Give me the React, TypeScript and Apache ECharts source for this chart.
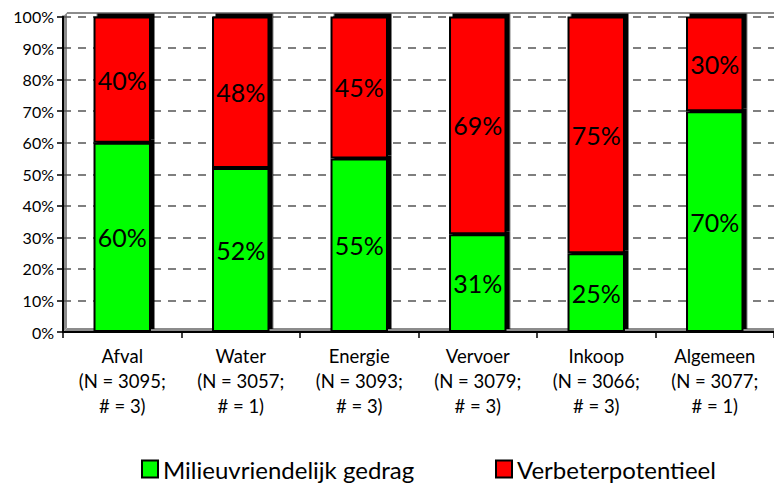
import React, { useEffect, useRef } from "react";
import * as echarts from "echarts";

const categories = [
  "Afval\n(N = 3095;\n# = 3)",
  "Water\n(N = 3057;\n# = 1)",
  "Energie\n(N = 3093;\n# = 3)",
  "Vervoer\n(N = 3079;\n# = 3)",
  "Inkoop\n(N = 3066;\n# = 3)",
  "Algemeen\n(N = 3077;\n# = 1)",
];
const greenValues = [60, 52, 55, 31, 25, 70];
const redValues = [40, 48, 45, 69, 75, 30];
const seriesNames = ["Milieuvriendelijk gedrag", "Verbeterpotentieel"];

const FONT = "Lato";
const GL = 63, GT = 16.5, GW = 715, GH = 315.5;

export default function App() {
  const ref = useRef<HTMLDivElement>(null);
  useEffect(() => {
    const chart = echarts.init(ref.current!, undefined, { renderer: "svg" });
    const d = 4;
    const barStyle = (color: string) => ({
      color,
      borderColor: "#000",
      borderWidth: 2,
      shadowColor: "#000",
      shadowBlur: 0,
      shadowOffsetX: 3.5,
      shadowOffsetY: -3,
    });
    const label = { show: true, position: "inside", formatter: "{c}%", fontFamily: FONT, fontSize: 25, color: "#000" };
    const legendBase = {
      top: 457,
      padding: 0,
      itemWidth: 16,
      itemHeight: 17,
      icon: "rect",
      itemStyle: { borderColor: "#000", borderWidth: 2, shadowColor: "transparent", shadowOffsetX: 0, shadowOffsetY: 0 },
      textStyle: { fontFamily: FONT, fontSize: 24, color: "#000", padding: [0, 0, 0, 0] },
    };
    chart.setOption({
      animation: false,
      textStyle: { fontFamily: FONT },
      grid: { left: GL, top: GT, width: GW, height: GH, containLabel: false },
      graphic: [
        {
          type: "polygon",
          z: -1,
          shape: { points: [[GL, GT + GH], [GL + d, GT + GH - d], [GL + d, GT - d], [GL, GT]] },
          style: { fill: "#8c8c8c" },
        },
        {
          type: "polygon",
          z: -1,
          shape: { points: [[GL, GT + GH], [GL + d, GT + GH - d], [GL + GW + d, GT + GH - d], [GL + GW, GT + GH]] },
          style: { fill: "#8c8c8c" },
        },
        {
          type: "line",
          z: -1,
          shape: { x1: GL + d, y1: GT - d + 0.5, x2: GL + GW + d, y2: GT - d + 0.5 },
          style: { stroke: "#8c8c8c", lineWidth: 2 },
        },
      ],
      legend: [
        { ...legendBase, left: 141, data: [seriesNames[0]] },
        { ...legendBase, left: 495, data: [seriesNames[1]] },
      ],
      xAxis: {
        type: "category",
        data: categories,
        axisLine: { lineStyle: { color: "#000", width: 2 } },
        axisTick: { show: true, length: 6, lineStyle: { color: "#000", width: 1.5 } },
        axisLabel: {
          fontFamily: FONT,
          fontSize: 18.5,
          color: "#000",
          lineHeight: 25,
          margin: 11,
          interval: 0,
        },
      },
      yAxis: {
        type: "value",
        min: 0,
        max: 100,
        interval: 10,
        axisLine: { show: true, lineStyle: { color: "#000", width: 2 } },
        axisTick: { show: true, length: 6, lineStyle: { color: "#000", width: 1.5 } },
        axisLabel: { formatter: "{value}%", fontFamily: FONT, fontSize: 16, color: "#000", margin: 9 },
        splitLine: { show: true, lineStyle: { color: "#555", type: [8, 7], width: 1.5 } },
      },
      series: [
        {
          name: seriesNames[0],
          type: "bar",
          stack: "a",
          barWidth: "48.5%",
          data: greenValues,
          itemStyle: barStyle("#00ff00"),
          label,
        },
        {
          name: seriesNames[1],
          type: "bar",
          stack: "a",
          barWidth: "48.5%",
          data: redValues,
          itemStyle: barStyle("#ff0000"),
          label,
        },
      ],
    });
    return () => chart.dispose();
  }, []);
  return <div ref={ref} style={{ position: "absolute", left: 0, top: 0, width: 774, height: 486 }} />;
}
